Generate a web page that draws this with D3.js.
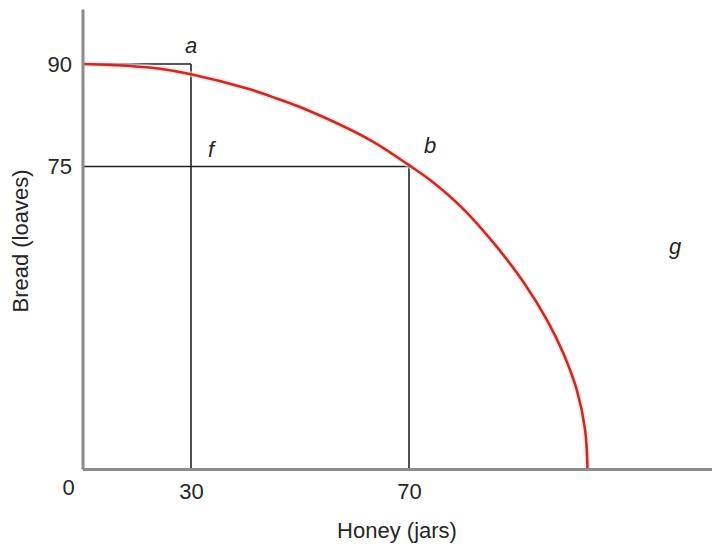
<!DOCTYPE html>
<html>
<head>
<meta charset="utf-8">
<script src="https://cdn.jsdelivr.net/npm/d3@7"></script>
<style>
  html, body { margin: 0; padding: 0; background: #fff; }
  svg { display: block; }
  text { font-family: "Liberation Sans", Arial, Helvetica, sans-serif; fill: #262626; }
</style>
</head>
<body>
<svg id="chart" width="712" height="548"></svg>
<script>
// ---- Data (schematic production possibilities frontier) ----
const xTicks = [0, 30, 70];          // Honey (jars)
const yTicks = [75, 90];             // Bread (loaves)
const xTitle = "Honey (jars)";
const yTitle = "Bread (loaves)";

// PPF curve: honey, bread
const curveHoney = [0, 13.1, 21.4, 30, 40.8, 44.5, 50.0, 62.8, 69.8, 73.5, 79.1, 84.8, 89.2, 93.2, 95.9, 98.2, 99.6, 100];
const curveBread = [90, 89.7, 89.3, 88.5, 86.3, 85.3, 83.7, 78.9, 75.3, 71.7, 64.5, 55.0, 46.4, 36.9, 28.8, 19.6, 9.7, 0];

// Labelled points
const pointNames = ["a", "f", "b", "g"];
const pointHoney = [30, 30, 70, 117.6];
const pointBread = [90, 75, 75, 53.3];

// Guide lines (combinations a and b)
const guideHoney = [30, 70];
const guideBread = [90, 75];

// ---- Layout ----
const svg = d3.select("#chart");
const x = d3.scaleLinear().domain([0, 30, 70, 100, 125]).range([82.5, 191, 409, 587.5, 712]);
const y = d3.scaleLinear().domain([0, 75, 90, 100]).range([469, 166.5, 64, 9]);

// guide lines
guideHoney.forEach((h, i) => {
  const b = guideBread[i];
  svg.append("line")
    .attr("x1", x(0)).attr("x2", x(h)).attr("y1", y(b)).attr("y2", y(b))
    .attr("stroke", "#222").attr("stroke-width", 1.6);
  svg.append("line")
    .attr("x1", x(h)).attr("x2", x(h)).attr("y1", y(b)).attr("y2", y(0))
    .attr("stroke", "#222").attr("stroke-width", 1.6);
});

// PPF curve
const curvePts = curveHoney.map((h, i) => [h, curveBread[i]]);
const line = d3.line()
  .x(d => x(d[0])).y(d => y(d[1]))
  .curve(d3.curveCatmullRom.alpha(0.5));
svg.append("path")
  .datum(curvePts)
  .attr("d", line)
  .attr("fill", "none")
  .attr("stroke", "#f6d6d2")
  .attr("stroke-width", 6)
  .attr("opacity", 0.6);
svg.append("path")
  .datum(curvePts)
  .attr("d", line)
  .attr("fill", "none")
  .attr("stroke", "#c0302b")
  .attr("stroke-width", 2.6);

// Axes
const xAxis = d3.axisBottom(x).tickValues(xTicks).tickSize(0).tickSizeOuter(0).tickPadding(14.5)
  .tickFormat(d3.format("d"));
const yAxis = d3.axisLeft(y).tickValues(yTicks).tickSize(0).tickSizeOuter(0).tickPadding(10.5)
  .tickFormat(d3.format("d"));

const gx = svg.append("g").attr("transform", `translate(0,${y(0)})`).call(xAxis);
const gy = svg.append("g").attr("transform", `translate(${x(0)},0)`).call(yAxis);

[gx, gy].forEach(g => {
  g.select(".domain").attr("stroke", "#8c8c8c").attr("stroke-width", 3);
  g.selectAll("text").attr("font-size", 22).attr("fill", "#262626")
    .attr("font-family", '"Liberation Sans", Arial, sans-serif');
});
gx.selectAll(".tick").filter(d => d === 0).select("text").attr("dx", -14.5).attr("y", 10);

// Axis titles
svg.append("text")
  .attr("x", 397).attr("y", 538)
  .attr("text-anchor", "middle")
  .attr("font-size", 22)
  .text(xTitle);
svg.append("text")
  .attr("transform", "translate(28,241) rotate(-90)")
  .attr("text-anchor", "middle")
  .attr("font-size", 22)
  .text(yTitle);

// Point labels
const labelDx = [0, 20, 21, 0];
const labelDy = [-11, -10, -14, 0];
pointNames.forEach((n, i) => {
  svg.append("text")
    .attr("x", x(pointHoney[i]) + labelDx[i])
    .attr("y", y(pointBread[i]) + labelDy[i])
    .attr("text-anchor", "middle")
    .attr("font-size", 22)
    .attr("font-style", "italic")
    .text(n);
});
</script>
</body>
</html>
